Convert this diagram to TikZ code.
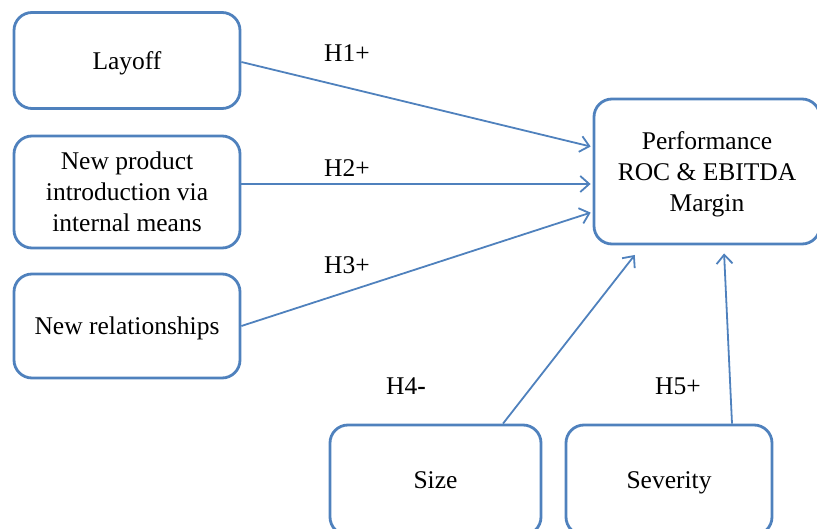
\documentclass[tikz,border=0pt]{standalone}
\usepackage{fontspec}
\setmainfont{Liberation Serif}
\usetikzlibrary{arrows.meta}
\definecolor{boxblue}{HTML}{4F81BD}
\begin{document}
\begin{tikzpicture}[x=1pt,y=-1pt,
  box/.style={draw=boxblue,line width=2.8pt,rounded corners=18pt,align=center,
    inner sep=0pt,text depth=-5pt,font=\fontsize{25.5}{31}\selectfont},
  conn/.style={draw=boxblue,line width=1.8pt,-{Straight Barb[length=9pt,width=16pt,line width=1.8pt]},shorten >=2pt},
  lbl/.style={font=\fontsize{25.5}{29}\selectfont,inner sep=0pt}]
\useasboundingbox (0,0) rectangle (817,529);
\node[box,minimum width=226pt,minimum height=96pt] (layoff) at (127,60.5) {Layoff};
\node[box,minimum width=226pt,minimum height=112pt] (newprod) at (127,192) {New product\\introduction via\\internal means};
\node[box,minimum width=226pt,minimum height=104pt] (newrel) at (127,326) {New relationships};
\node[box,minimum width=226pt,minimum height=145pt] (perf) at (707,171.5) {Performance\\ROC \& EBITDA\\Margin};
\node[box,minimum width=211pt,minimum height=110pt] (size) at (435.5,480) {Size};
\node[box,minimum width=206pt,minimum height=110pt] (sev) at (669,480) {Severity};
\draw[conn] ([yshift=-1.5pt]layoff.east) -- ([yshift=24.5pt]perf.west);
\draw[conn] ([yshift=8pt]newprod.east) -- ([yshift=-12.5pt]perf.west);
\draw[conn] (newrel.east) -- ([yshift=-40.5pt]perf.west);
\draw[conn] ([xshift=67.5pt]size.north) -- ([xshift=-71pt,yshift=-8pt]perf.south);
\draw[conn] ([xshift=63pt]sev.north) -- ([xshift=17pt,yshift=-6pt]perf.south);
\node[lbl] (h1) at (347,53) {H1+};
\node[lbl] (h2) at (347,168) {H2+};
\node[lbl] (h3) at (347,265) {H3+};
\node[lbl] (h4) at (406,386) {H4\textbf{-}};
\node[lbl] (h5) at (678,386) {H5+};
\end{tikzpicture}
\end{document}
